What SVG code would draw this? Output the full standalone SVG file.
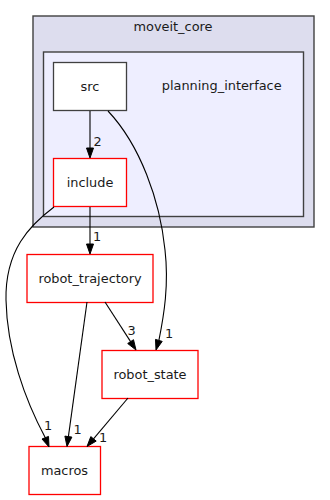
<svg xmlns="http://www.w3.org/2000/svg" width="330" height="500" viewBox="0 0 330 500">
  <style>
    text { font-family: "DejaVu Sans", "Liberation Sans", sans-serif; font-size: 12.9px; fill: #1a1a1a; }
    .mid { text-anchor: middle; }
    .cl-outer { fill: #ddddee; stroke: #404040; stroke-width: 1.4; }
    .cl-inner { fill: #eeeeff; stroke: #404040; stroke-width: 1.4; }
    .dir { fill: #ffffff; stroke: #404040; stroke-width: 1.3; }
    .ext { fill: #ffffff; stroke: #ff0000; stroke-width: 1.3; }
    .edge path { fill: none; stroke: #000; stroke-width: 1.1; }
    .edge polygon { fill: #000; stroke: #000; stroke-width: 1; }
  </style>
  <rect width="330" height="500" fill="#ffffff"/>

  <!-- directory clusters -->
  <g id="cluster_moveit_core">
    <rect class="cl-outer" x="33" y="16" width="281" height="211"/>
    <text class="mid" x="173" y="31">moveit_core</text>
  </g>
  <g id="cluster_planning_interface">
    <rect class="cl-inner" x="43.5" y="52" width="260" height="164.5"/>
    <text class="mid" x="221.7" y="90">planning_interface</text>
  </g>

  <!-- nodes -->
  <g id="node_src">
    <rect class="dir" x="53.5" y="62.5" width="73" height="48"/>
    <text class="mid" x="90" y="90.5">src</text>
  </g>
  <g id="node_include">
    <rect class="ext" x="53.5" y="158.5" width="73" height="48"/>
    <text class="mid" x="90" y="186.5">include</text>
  </g>
  <g id="node_robot_trajectory">
    <rect class="ext" x="27" y="254.5" width="126" height="48"/>
    <text class="mid" x="90" y="282.5">robot_trajectory</text>
  </g>
  <g id="node_robot_state">
    <rect class="ext" x="102" y="350.5" width="96" height="48"/>
    <text class="mid" x="150" y="378.5">robot_state</text>
  </g>
  <g id="node_macros">
    <rect class="ext" x="29" y="446.5" width="71.5" height="48"/>
    <text class="mid" x="64.5" y="474.5">macros</text>
  </g>

  <!-- dependency edges -->
  <g id="edges" class="edge">
    <!-- src -> include -->
    <path d="M90,111 V148"/>
    <polygon points="86.5,148 90,158 93.5,148"/>
    <text class="mid" x="97.5" y="145.5">2</text>

    <!-- src -> robot_state -->
    <path d="M108,111 C140,145 160,200 165,250 C169,285 164,315 158.9,340.4"/>
    <polygon points="155.5,339.4 156,350 162.2,341.4"/>
    <text class="mid" x="169" y="337.5">1</text>

    <!-- include -> robot_trajectory -->
    <path d="M90,207 V244"/>
    <polygon points="86.5,244 90,254 93.5,244"/>
    <text class="mid" x="97" y="241">1</text>

    <!-- include -> macros -->
    <path d="M54,207 C30,225 5,250 6,300 C7,350 25,400 45.3,437.7"/>
    <polygon points="42,439 49,447 48.5,436.4"/>
    <text class="mid" x="48" y="430">1</text>

    <!-- robot_trajectory -> macros -->
    <path d="M87,302 L68.4,436.6"/>
    <polygon points="64.9,436.1 67,446.5 71.9,437.1"/>
    <text class="mid" x="77.5" y="433.5">1</text>

    <!-- robot_trajectory -> robot_state -->
    <path d="M105,302 L130.6,341.6"/>
    <polygon points="127.7,343.5 136,350 133.5,339.7"/>
    <text class="mid" x="131.7" y="334.5">3</text>

    <!-- robot_state -> macros -->
    <path d="M128,398 L93.5,438.9"/>
    <polygon points="90.8,436.6 87,446.5 96.2,441.1"/>
    <text class="mid" x="103" y="441.5">1</text>
  </g>
</svg>
